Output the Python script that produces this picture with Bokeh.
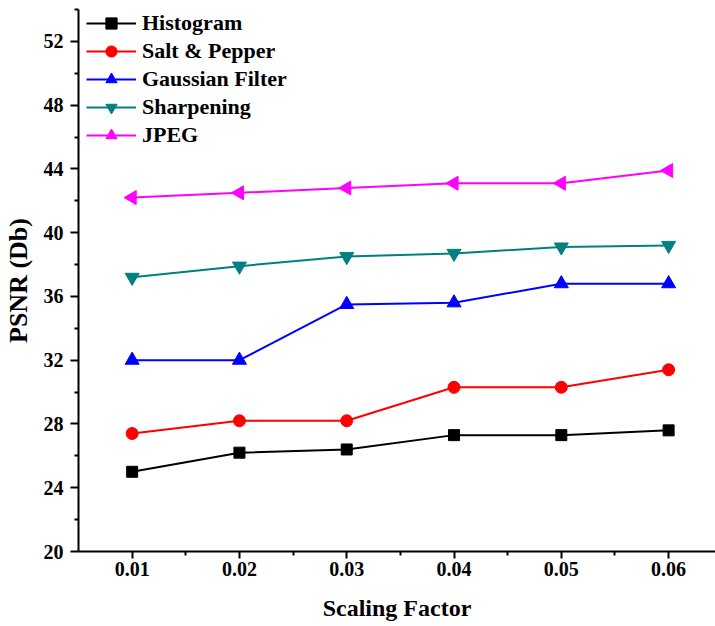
import math
from bokeh.plotting import figure
from bokeh.models import (Range1d, FixedTicker, Legend, LegendItem)
from bokeh.embed import file_html
from bokeh.resources import INLINE

x = [0.01, 0.02, 0.03, 0.04, 0.05, 0.06]
x_tick_labels = ["0.01", "0.02", "0.03", "0.04", "0.05", "0.06"]
y_ticks = [20, 24, 28, 32, 36, 40, 44, 48, 52]

histogram = [25.0, 26.2, 26.4, 27.3, 27.3, 27.6]
salt_pepper = [27.4, 28.2, 28.2, 30.3, 30.3, 31.4]
gaussian = [32.0, 32.0, 35.5, 35.6, 36.8, 36.8]
sharpening = [37.2, 37.9, 38.5, 38.7, 39.1, 39.2]
jpeg = [42.2, 42.5, 42.8, 43.1, 43.1, 43.9]

series = [
    ("Histogram", histogram, "#000000", "square", 11, 0.0),
    ("Salt & Pepper", salt_pepper, "#FF0000", "circle", 12, 0.0),
    ("Gaussian Filter", gaussian, "#0000FF", "triangle", 14, 0.0),
    ("Sharpening", sharpening, "#008080", "inverted_triangle", 14, 0.0),
    ("JPEG", jpeg, "#FF00FF", "triangle", 14, math.pi / 2),
]

FONT = "Liberation Serif"

p = figure(width=715, height=626, output_backend="svg", toolbar_location=None,
           x_range=Range1d(0.005, 0.06437), y_range=Range1d(20, 54),
           min_border_left=75, min_border_right=0, min_border_top=9,
           min_border_bottom=75)
p.outline_line_color = None
p.xgrid.visible = False
p.ygrid.visible = False

items = []
for name, vals, color, marker, size, ang in series:
    r1 = p.line(x, vals, line_color=color, line_width=2)
    r2 = p.scatter(x, vals, marker=marker, size=size, angle=ang, angle_units="rad",
                   fill_color=color, line_color=color)
    items.append(LegendItem(label=name, renderers=[r1, r2]))

legend = Legend(items=items, location=(8, 402), padding=0, margin=0,
                glyph_width=50, glyph_height=28, label_height=28, spacing=0,
                label_standoff=6, background_fill_alpha=0, border_line_alpha=0,
                label_text_font=FONT, label_text_font_style="bold",
                label_text_font_size="22px", label_text_color="#000000")
p.add_layout(legend, "center")

p.xaxis.ticker = FixedTicker(ticks=x, minor_ticks=[0.015, 0.025, 0.035, 0.045, 0.055])
p.xaxis.major_label_overrides = {v: s for v, s in zip(x, x_tick_labels)}
p.yaxis.ticker = FixedTicker(ticks=y_ticks, minor_ticks=[22, 26, 30, 34, 38, 42, 46, 50, 54])

for ax in (p.xaxis[0], p.yaxis[0]):
    ax.axis_line_width = 2
    ax.axis_line_color = "#000000"
    ax.major_tick_line_width = 2
    ax.minor_tick_line_width = 2
    ax.major_tick_line_color = "#000000"
    ax.minor_tick_line_color = "#000000"
    ax.major_tick_in = 0
    ax.major_tick_out = 7
    ax.minor_tick_in = 0
    ax.minor_tick_out = 4
    ax.major_label_text_font = FONT
    ax.major_label_text_font_style = "bold"
    ax.major_label_text_font_size = "20px"
    ax.major_label_text_color = "#000000"
    ax.axis_label_text_font = FONT
    ax.axis_label_text_font_style = "bold"
    ax.axis_label_text_color = "#000000"

p.xaxis.axis_label = "Scaling Factor"
p.yaxis.axis_label = "PSNR (Db)"
p.xaxis.axis_label_text_font_size = "24px"
p.yaxis.axis_label_text_font_size = "26px"
p.xaxis.major_label_standoff = 3
p.xaxis.axis_label_standoff = 16
p.yaxis.major_label_standoff = 7
p.yaxis.axis_label_standoff = 8
p.yaxis.major_tick_out = 8

open("out.html", "w").write(file_html(p, INLINE))
